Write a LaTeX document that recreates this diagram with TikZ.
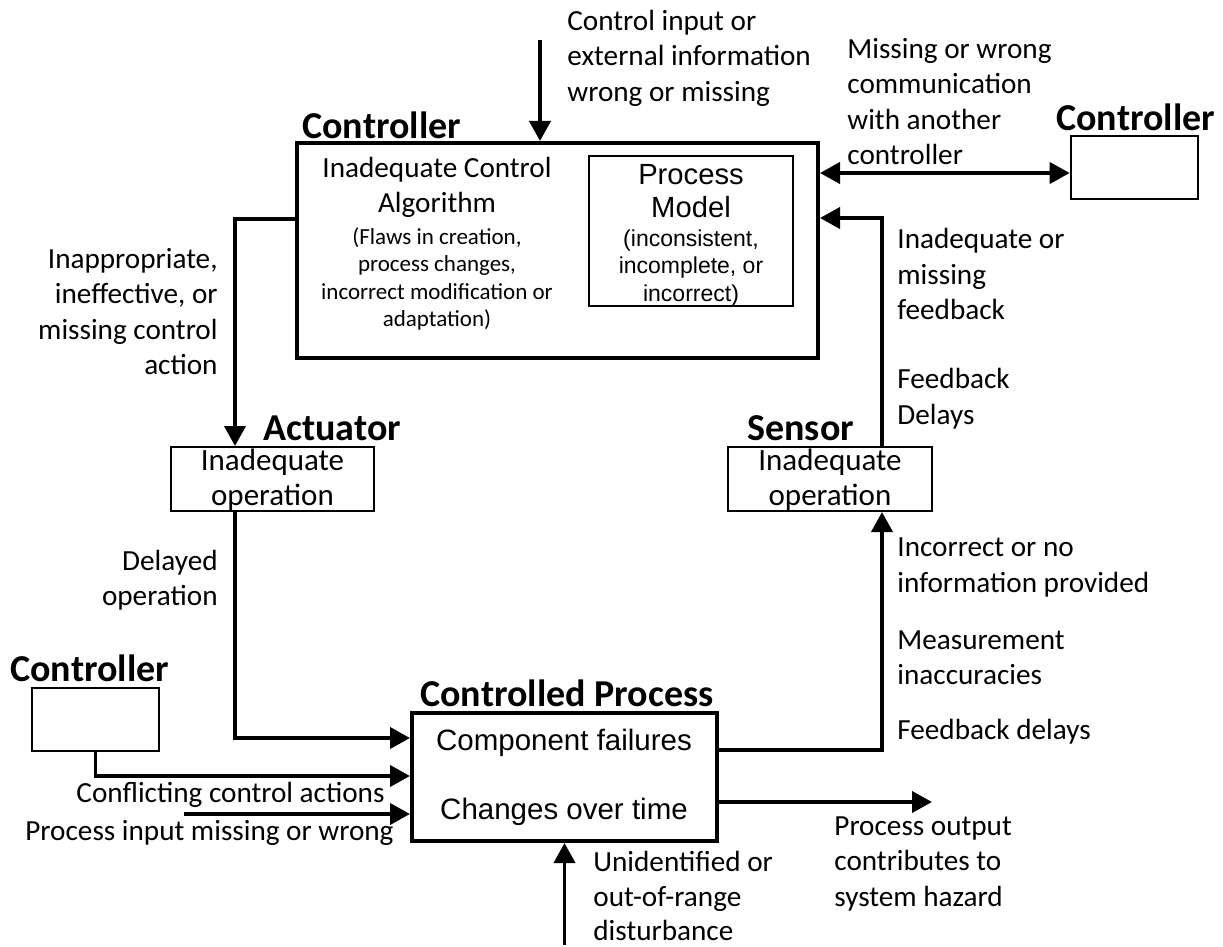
\documentclass[tikz,border=0pt]{standalone}
\usepackage{fontspec}
\setmainfont{Carlito}
\newfontfamily\arialf{Liberation Sans}
\usetikzlibrary{arrows.meta}
\begin{document}
\begin{tikzpicture}[x=0.5pt,y=-0.5pt,
  conn/.style={line width=1.9pt, -{Triangle[length=10pt,width=10.5pt]}},
  conntwo/.style={line width=1.9pt, {Triangle[length=10pt,width=10.5pt]}-{Triangle[length=10pt,width=10.5pt]}},
  lbl/.style={inner sep=0pt, font=\fontsize{14.6pt}{17.75pt}\selectfont, align=left, anchor=west},
  lblr/.style={lbl, align=right, anchor=east},
  ttl/.style={inner sep=0pt, font=\fontsize{19pt}{22pt}\selectfont\bfseries, anchor=west},
  thickbox/.style={draw, line width=2pt, inner sep=0pt},
  thinbox/.style={draw, line width=1pt, inner sep=0pt},
  midbox/.style={draw, line width=1.3pt, inner sep=0pt},
  boxtxt/.style={inner sep=0pt, align=center, font=\fontsize{15.5pt}{17.5pt}\selectfont},
  smalltxt/.style={inner sep=0pt, align=center, font=\fontsize{11.5pt}{13.6pt}\selectfont},
  artxt/.style={inner sep=0pt, align=center, font=\arialf\fontsize{14.6pt}{16.5pt}\selectfont},
  arsmall/.style={inner sep=0pt, align=center, font=\arialf\fontsize{11.5pt}{13.75pt}\selectfont}
]
\useasboundingbox (0,0) rectangle (1223,947);

% boxes
\node[thickbox, minimum width=260.5pt, minimum height=107.5pt] (main) at (557.5,250.5) {};
\node[draw, line width=1.2pt, inner sep=0pt, minimum width=102pt, minimum height=75pt] (pm) at (691,231) {};
\node[midbox, minimum width=63.5pt, minimum height=31.5pt] (rc) at (1134.5,167.5) {};
\node[midbox, minimum width=63.5pt, minimum height=31.5pt] (lc) at (95.5,719.5) {};
\node[thinbox, minimum width=101.5pt, minimum height=32pt] (act) at (272.5,479) {};
\node[thinbox, minimum width=102pt, minimum height=32pt] (sen) at (830,479) {};
\node[thickbox, minimum width=152.5pt, minimum height=64pt] (cp) at (564.5,777) {};

% titles
\node[ttl] (tmain) at (302,125) {Controller};
\node[ttl] (trc) at (1056,117) {Controller};
\node[ttl] (tlc) at (10,668) {Controller};
\node[ttl] (tact) at (263,428) {Actuator};
\node[ttl] (tsen) at (747,428) {Sensor};
\node[ttl] (tcp) at (420,693) {Controlled Process};

% box texts
\node[inner sep=0pt, align=center, font=\fontsize{14.6pt}{17.5pt}\selectfont] (ica) at (437,187.5) {Inadequate Control\\Algorithm};
\node[smalltxt] (icas) at (437,279) {(Flaws in creation,\\process changes,\\incorrect modification or\\adaptation)};
\node[artxt] (pmt) at (691,191) {Process\\Model};
\node[arsmall] (pms) at (691,268) {(inconsistent,\\incomplete, or\\incorrect)};
\node[boxtxt] (actt) at (272.5,479.5) {Inadequate\\operation};
\node[boxtxt] (sent) at (830,479.5) {Inadequate\\operation};
\node[inner sep=0pt, font=\arialf\fontsize{14.75pt}{17pt}\selectfont] (cp1) at (564,743) {Component failures};
\node[inner sep=0pt, font=\arialf\fontsize{14.75pt}{17pt}\selectfont] (cp2) at (564,812) {Changes over time};

% labels
\node[lbl] (l1) at (567,58) {Control input or\\external information\\wrong or missing};
\node[lbl] (l2) at (847,101.5) {Missing or wrong\\communication\\with another\\controller};
\node[lbl] (l3) at (897,274) {Inadequate or\\missing\\feedback};
\node[lbl] (l4) at (897,398.5) {Feedback\\Delays};
\node[lbl] (l5) at (897,567.5) {Incorrect or no\\information provided};
\node[lbl] (l6) at (897,657.5) {Measurement\\inaccuracies};
\node[lbl] (l7) at (897,732) {Feedback delays};
\node[lblr] (l8) at (218,311.5) {Inappropriate,\\ineffective, or\\missing control\\action};
\node[lblr] (l9) at (218,580) {Delayed\\operation};
\node[lblr] (l10) at (385,795) {Conflicting control actions};
\node[lbl] (l11) at (25,833) {Process input missing or wrong};
\node[lbl, font=\fontsize{14.6pt}{17.25pt}\selectfont] (l12) at (593,896) {Unidentified or\\out-of-range\\disturbance};
\node[lbl] (l13) at (834,863.5) {Process output\\contributes to\\system hazard};

% coordinates for free ends and bends
\coordinate (tin) at (540,40);
\coordinate (ax) at (235,0);
\coordinate (sx) at (882,0);
\coordinate (pin) at (184,814);
\coordinate (dist) at (564.5,945);
\coordinate (outp) at (932,802);

% connectors
\draw[conn] (tin) -- (tin |- main.north);
\draw[conntwo] (main.east |- 0,173) -- (rc.west |- 0,173);
\draw[conn] (sx |- sen.north) |- (main.east |- 0,218);
\draw[conn] (main.west |- 0,219) -| (ax |- act.north);
\draw[conn] (ax |- act.south) |- (cp.west |- 0,738);
\draw[conn] (lc.south) |- (cp.west |- 0,776);
\draw[conn] (pin) -- (cp.west |- pin);
\draw[conn] (dist) -- (cp.south);
\draw[conn] (cp.east |- outp) -- (outp);
\draw[conn] (cp.east |- 0,750) -| (sx |- sen.south);
\end{tikzpicture}
\end{document}
